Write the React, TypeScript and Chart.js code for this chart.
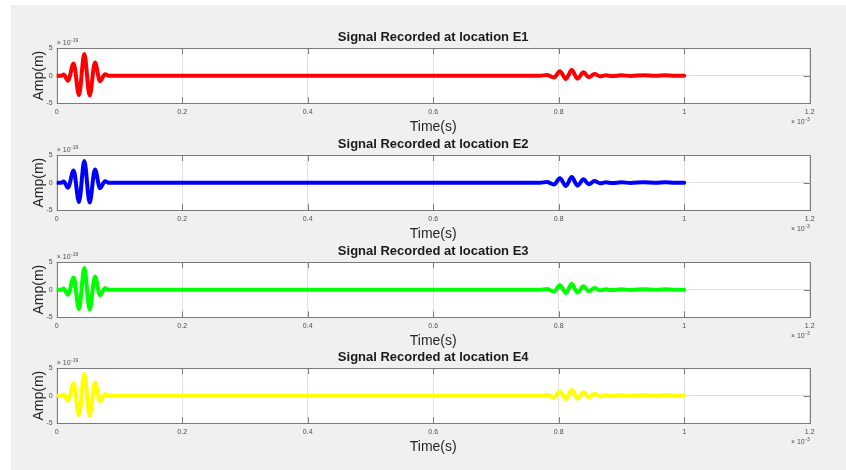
import React, { useEffect, useRef } from 'react';
import { Chart, registerables } from 'chart.js';

Chart.register(...registerables);

const FONT = '"Liberation Sans", Arial, Helvetica, sans-serif';

// Time in units of 1e-3 s, displacement in units of 1e-19 m.
const sampleTimes = [
  0, 0.008, 0.011, 0.018, 0.027, 0.0355, 0.044, 0.0525, 0.061, 0.069, 0.077, 0.083, 0.1,
  0.77, 0.781, 0.7925, 0.802, 0.8115, 0.8207, 0.83, 0.8395, 0.848, 0.857, 0.866, 0.875,
  0.885, 0.9, 0.915, 0.935, 0.955, 0.97, 0.985, 1.0,
];
const displacement = [
  0, 0, 0.2, -0.9, 2.2, -3.5, 3.9, -3.6, 2.4, -1.0, 0.25, 0, 0,
  0, 0.1, -0.35, 0.8, -0.6, 1.0, -0.55, 0.6, -0.3, 0.3, -0.12, 0.05,
  -0.08, 0.06, -0.05, 0.08, -0.04, 0.06, -0.02, 0,
];

const locations = ['E1', 'E2', 'E3', 'E4'];
const traceColors = ['#ff0000', '#0000ff', '#00ff00', '#ffff00'];

const xRange = [0, 1.2];
const xStep = 0.2;
const yRange = [-5, 5];
const yStep = 5;
const xExponent = '-3';
const yExponent = '-19';

// top of each subplot canvas on the page
const panelTops = [0, 107, 213.5, 320];
const PANEL_W = 846;
const PANEL_H = 140;

const TICK_COLOR = '#4d4d4d';
const BOX_COLOR = '#7a7a7a';
const GRID_COLOR = '#e2e2e2';

function drawExponent(ctx: CanvasRenderingContext2D, x: number, y: number, exp: string, alignRight: boolean) {
  ctx.save();
  ctx.fillStyle = TICK_COLOR;
  ctx.textBaseline = 'alphabetic';
  ctx.textAlign = 'left';
  ctx.font = `7px ${FONT}`;
  const base = '\u00d7 10';
  const wBase = ctx.measureText(base).width;
  ctx.font = `5px ${FONT}`;
  const wExp = ctx.measureText(exp).width;
  const x0 = alignRight ? x - wBase - wExp - 0.5 : x;
  ctx.font = `7px ${FONT}`;
  ctx.fillText(base, x0, y);
  ctx.font = `5px ${FONT}`;
  ctx.fillText(exp, x0 + wBase + 0.5, y - 3.5);
  ctx.restore();
}

const formatTick = (v: number | string) => String(Number(Number(v).toFixed(2)));

const axesPlugin = {
  id: 'axesFrame',
  beforeDraw(chart: any) {
    const { ctx, chartArea: a } = chart;
    ctx.save();
    ctx.fillStyle = '#ffffff';
    ctx.fillRect(a.left, a.top, a.right - a.left, a.bottom - a.top);
    ctx.restore();
  },
  beforeDatasetsDraw(chart: any) {
    const { ctx, chartArea: a, scales } = chart;
    const xs = scales.x;
    const ys = scales.y;
    const len = 6;
    ctx.save();
    ctx.strokeStyle = BOX_COLOR;
    ctx.lineWidth = 1;
    ctx.beginPath();
    xs.ticks.forEach((t: any) => {
      const px = Math.round(xs.getPixelForValue(t.value)) + 0.5;
      ctx.moveTo(px, a.top);
      ctx.lineTo(px, a.top + len);
      ctx.moveTo(px, a.bottom);
      ctx.lineTo(px, a.bottom - len);
    });
    ys.ticks.forEach((t: any) => {
      const py = Math.round(ys.getPixelForValue(t.value)) + 0.5;
      ctx.moveTo(a.left, py);
      ctx.lineTo(a.left + len, py);
      ctx.moveTo(a.right, py);
      ctx.lineTo(a.right - len, py);
    });
    ctx.stroke();
    const l = Math.round(a.left) + 0.5;
    const t = Math.round(a.top) + 0.5;
    const r = Math.round(a.right) + 0.5;
    const b = Math.round(a.bottom) + 0.5;
    ctx.strokeRect(l, t, r - l, b - t);
    ctx.restore();
  },
  afterDraw(chart: any) {
    const { ctx, chartArea: a } = chart;
    const heading = chart.options.plugins.panelHeading?.text ?? '';
    ctx.save();
    ctx.fillStyle = '#1a1a1a';
    ctx.font = `bold 13px ${FONT}`;
    ctx.textAlign = 'center';
    ctx.textBaseline = 'middle';
    ctx.fillText(heading, (a.left + a.right) / 2, a.top - 10.5);
    ctx.restore();
    drawExponent(ctx, a.left, a.top - 3, yExponent, false);
    drawExponent(ctx, a.right, a.bottom + 21, xExponent, true);
  },
};

function SignalPanel({ index }: { index: number }) {
  const ref = useRef<HTMLCanvasElement | null>(null);

  useEffect(() => {
    if (!ref.current) return;
    const points = sampleTimes.map((t, i) => ({ x: t, y: displacement[i] }));
    const chart = new Chart(ref.current, {
      type: 'line',
      data: {
        datasets: [
          {
            data: points,
            borderColor: traceColors[index],
            backgroundColor: traceColors[index],
            borderWidth: 4,
            borderCapStyle: 'round',
            borderJoinStyle: 'round',
            cubicInterpolationMode: 'monotone',
            pointRadius: 0,
            fill: false,
          },
        ],
      },
      options: {
        animation: false,
        responsive: false,
        events: [],
        layout: { padding: { left: 20, right: 36.3, top: 48, bottom: 4.7 } },
        plugins: {
          legend: { display: false },
          tooltip: { enabled: false },
          title: { display: false },
          panelHeading: { text: `Signal Recorded at location ${locations[index]}` },
        },
        scales: {
          x: {
            type: 'linear',
            min: xRange[0],
            max: xRange[1],
            ticks: {
              stepSize: xStep,
              autoSkip: false,
              maxRotation: 0,
              padding: 4.2,
              color: TICK_COLOR,
              font: { family: FONT, size: 7, lineHeight: 1.2 },
              callback: formatTick,
            },
            grid: { color: GRID_COLOR, drawTicks: false },
            border: { display: false },
            title: {
              display: true,
              text: 'Time(s)',
              color: '#262626',
              font: { family: FONT, size: 14, lineHeight: 1.2 },
              padding: { top: 0, bottom: 0 },
            },
            afterFit: (s: any) => {
              s.height = 32;
            },
          },
          y: {
            type: 'linear',
            min: yRange[0],
            max: yRange[1],
            ticks: {
              stepSize: yStep,
              padding: 4,
              color: TICK_COLOR,
              font: { family: FONT, size: 7, lineHeight: 1.2 },
              callback: formatTick,
            },
            grid: { color: GRID_COLOR, drawTicks: false },
            border: { display: false },
            title: {
              display: true,
              text: 'Amp(m)',
              color: '#262626',
              font: { family: FONT, size: 14, lineHeight: 1.2 },
              padding: { top: 11, bottom: 0 },
            },
            afterFit: (s: any) => {
              s.width = 36.7;
            },
          },
        },
      },
      plugins: [axesPlugin],
    } as any);
    return () => chart.destroy();
  }, [index]);

  return (
    <canvas
      ref={ref}
      width={PANEL_W}
      height={PANEL_H}
      style={{
        position: 'absolute',
        left: 0,
        top: panelTops[index],
        width: PANEL_W,
        height: PANEL_H,
      }}
    />
  );
}

export default function App() {
  return (
    <div
      style={{
        position: 'absolute',
        left: 0,
        top: 0,
        width: 846,
        height: 470,
        background: '#ffffff',
        overflow: 'hidden',
      }}
    >
      <div
        style={{
          position: 'absolute',
          left: 11,
          top: 5,
          width: 835,
          height: 465,
          background: '#f0f0f0',
        }}
      />
      {locations.map((loc, i) => (
        <SignalPanel key={loc} index={i} />
      ))}
    </div>
  );
}
